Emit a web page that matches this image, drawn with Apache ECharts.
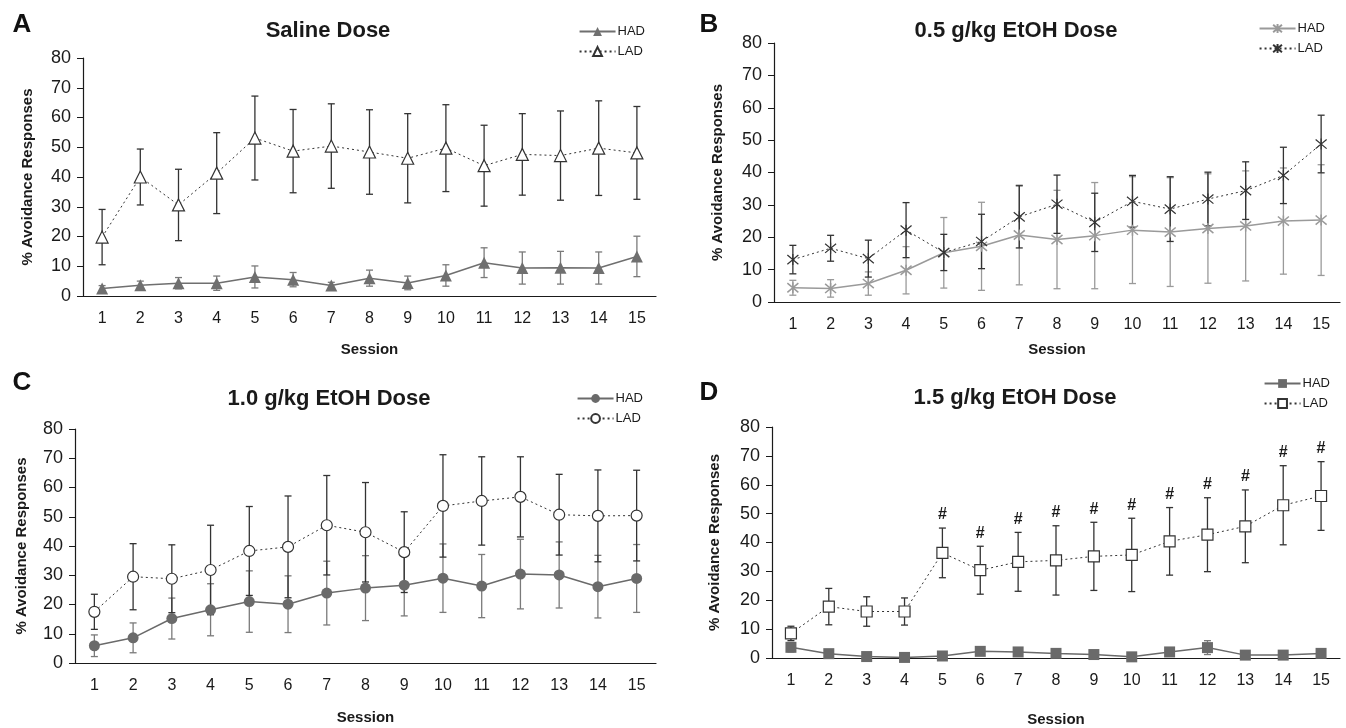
<!DOCTYPE html>
<html>
<head>
<meta charset="utf-8">
<script src="https://cdn.jsdelivr.net/npm/echarts@6/dist/echarts.min.js"></script>
<style>
	html, body { margin: 0; padding: 0; background: #fff; }
	#chart { width: 1346px; height: 728px; }
</style>
</head>
<body>
<div id="chart"></div>
<script>
const sessions = ["1", "2", "3", "4", "5", "6", "7", "8", "9", "10", "11", "12", "13", "14", "15"]

// Saline dose
const salineHAD = [2.5, 3.6, 4.3, 4.3, 6.4, 5.5, 3.5, 6.0, 4.4, 6.9, 11.2, 9.4, 9.5, 9.4, 13.3]
const salineHADErr = [1.0, 1.4, 1.9, 2.4, 3.7, 2.4, 1.1, 2.7, 2.3, 3.6, 5.0, 5.4, 5.5, 5.4, 6.8]
const salineLAD = [19.8, 40.0, 30.6, 41.3, 53.1, 48.7, 50.4, 48.4, 46.3, 49.7, 43.8, 47.6, 47.2, 49.7, 48.1]
const salineLADErr = [9.3, 9.4, 12.0, 13.6, 14.1, 14.0, 14.2, 14.2, 15.0, 14.6, 13.6, 13.7, 15.0, 15.9, 15.6]

// 0.5 g/kg
const lowHAD = [4.4, 4.2, 5.7, 9.8, 15.2, 17.2, 20.7, 19.3, 20.5, 22.2, 21.6, 22.7, 23.5, 25.0, 25.3]
const lowHADErr = [2.3, 2.7, 3.6, 7.3, 10.9, 13.6, 15.4, 15.2, 16.4, 16.5, 16.8, 16.9, 17.0, 16.4, 17.1]
const lowLAD = [13.1, 16.6, 13.4, 22.2, 15.3, 18.7, 26.3, 30.2, 24.6, 31.1, 28.7, 31.8, 34.4, 39.1, 48.8]
const lowLADErr = [4.4, 4.0, 5.7, 8.5, 5.6, 8.4, 9.6, 9.0, 9.0, 8.0, 10.0, 8.3, 8.9, 8.7, 8.9]

// 1.0 g/kg
const midHAD = [5.9, 8.6, 15.2, 18.2, 21.0, 20.1, 23.9, 25.6, 26.6, 29.0, 26.3, 30.4, 30.1, 26.1, 28.9]
const midHADErr = [3.7, 5.1, 7.0, 8.9, 10.5, 9.7, 10.9, 11.1, 10.5, 11.7, 10.8, 11.9, 11.3, 10.7, 11.6]
const midLAD = [17.5, 29.5, 28.8, 31.8, 38.3, 39.7, 47.1, 44.7, 37.9, 53.7, 55.4, 56.8, 50.7, 50.3, 50.4]
const midLADErr = [6.0, 11.3, 11.6, 15.3, 15.2, 17.4, 17.0, 17.0, 13.8, 17.5, 15.1, 13.7, 13.8, 15.7, 15.5]

// 1.5 g/kg
const highHAD = [3.7, 1.5, 0.5, 0.2, 0.7, 2.3, 2.1, 1.6, 1.2, 0.4, 2.1, 3.6, 1.0, 1.0, 1.6]
const highHADErr = [1.6, 0.5, 0.3, 0.2, 0.3, 1.3, 0.6, 0.5, 0.4, 0.3, 0.4, 2.4, 0.4, 0.4, 0.5]
const highLAD = [8.5, 17.8, 16.1, 16.1, 36.4, 30.4, 33.3, 33.8, 35.2, 35.7, 40.4, 42.7, 45.6, 52.9, 56.1]
const highLADErr = [2.5, 6.3, 5.1, 4.7, 8.6, 8.3, 10.2, 12.0, 11.8, 12.7, 11.7, 12.8, 12.6, 13.7, 11.9]
const highSig = ["5", "6", "7", "8", "9", "10", "11", "12", "13", "14", "15"]

const yTicks = [0, 10, 20, 30, 40, 50, 60, 70, 80]

const font = "Liberation Sans, Arial, Helvetica, sans-serif"
const asterisk = "path://M0,0L10,10M10,0L0,10M5,-1L5,11"

const panels = [
	{ letter: "A", title: "Saline Dose", had: salineHAD, hadErr: salineHADErr, lad: salineLAD, ladErr: salineLADErr,
		symbol: "triangle", grid: { left: 83, right: 690, top: 58, bottom: 432 },
		letterPos: [22, 25], titlePos: [328, 32], legend: { right: 701, top: 25 }, yGap: 48, xGap: 46,
		hadColor: "#6f6f6f", hadBar: "#7a7a7a" },
	{ letter: "B", title: "0.5 g/kg EtOH Dose", had: lowHAD, hadErr: lowHADErr, lad: lowLAD, ladErr: lowLADErr,
		symbol: asterisk, grid: { left: 774, right: 6, top: 43, bottom: 426 },
		letterPos: [709, 25], titlePos: [1016, 32], legend: { right: 21, top: 22 }, yGap: 49, xGap: 40,
		hadColor: "#9a9a9a", hadBar: "#9a9a9a" },
	{ letter: "C", title: "1.0 g/kg EtOH Dose", had: midHAD, hadErr: midHADErr, lad: midLAD, ladErr: midLADErr,
		symbol: "circle", grid: { left: 75, right: 690, top: 429, bottom: 65 },
		letterPos: [22, 383], titlePos: [329, 400], legend: { right: 703, top: 392 }, yGap: 46, xGap: 47,
		hadColor: "#6a6a6a", hadBar: "#7a7a7a" },
	{ letter: "D", title: "1.5 g/kg EtOH Dose", had: highHAD, hadErr: highHADErr, lad: highLAD, ladErr: highLADErr,
		symbol: "rect", grid: { left: 772, right: 6, top: 427, bottom: 70 },
		letterPos: [709, 393], titlePos: [1015, 399], legend: { right: 16, top: 377 }, yGap: 50, xGap: 54,
		hadColor: "#6a6a6a", hadBar: "#7a7a7a" },
]

const errorBars = (idx, mean, err, color) => ({
	type: "custom",
	xAxisIndex: idx,
	yAxisIndex: idx,
	silent: true,
	z: 2,
	data: mean.map((m, i) => [i, m + err[i], Math.max(0, m - err[i])]),
	encode: { x: 0, y: [1, 2] },
	renderItem: (params, api) => {
		const x = api.value(0)
		const hi = api.coord([x, api.value(1)])
		const lo = api.coord([x, api.value(2)])
		const w = 3.5
		const style = { stroke: color, lineWidth: 1.3 }
		return {
			type: "group",
			children: [
				{ type: "line", shape: { x1: hi[0], y1: hi[1], x2: lo[0], y2: lo[1] }, style },
				{ type: "line", shape: { x1: hi[0] - w, y1: hi[1], x2: hi[0] + w, y2: hi[1] }, style },
				{ type: "line", shape: { x1: lo[0] - w, y1: lo[1], x2: lo[0] + w, y2: lo[1] }, style },
			],
		}
	},
})

let grids = [], xAxes = [], yAxes = [], series = [], legends = [], titles = []

panels.forEach((p, idx) => {
	grids.push({ ...p.grid, containLabel: false, outerBoundsMode: "none" })
	xAxes.push({
		type: "category",
		gridIndex: idx,
		data: sessions,
		boundaryGap: true,
		name: "Session",
		nameLocation: "middle",
		nameGap: p.xGap,
		nameTextStyle: { fontFamily: font, fontWeight: "bold", fontSize: 15, color: "#1a1a1a" },
		axisLine: { lineStyle: { color: "#1a1a1a", width: 1.2 } },
		axisTick: { length: 6, lineStyle: { color: "#1a1a1a" } },
		axisLabel: { fontFamily: font, fontSize: 16, color: "#1a1a1a", margin: 15 },
		splitLine: { show: false },
	})
	yAxes.push({
		type: "value",
		gridIndex: idx,
		min: yTicks[0],
		max: yTicks[yTicks.length - 1],
		interval: 10,
		name: "% Avoidance Responses",
		nameLocation: "middle",
		nameRotate: 90,
		nameGap: p.yGap,
		nameTextStyle: { fontFamily: font, fontWeight: "bold", fontSize: 15, color: "#1a1a1a" },
		axisLine: { show: true, lineStyle: { color: "#1a1a1a", width: 1.2 } },
		axisTick: { show: true, length: 6, lineStyle: { color: "#1a1a1a" } },
		axisLabel: { fontFamily: font, fontSize: 18, color: "#1a1a1a", margin: 12 },
		splitLine: { show: false },
	})

	series.push(errorBars(idx, p.had, p.hadErr, p.hadBar))
	series.push(errorBars(idx, p.lad, p.ladErr, "#333"))

	const isStar = p.symbol === asterisk
	series.push({
		name: p.letter + "-HAD",
		type: "line",
		xAxisIndex: idx,
		yAxisIndex: idx,
		data: p.had,
		symbol: p.symbol,
		symbolSize: isStar ? 11 : (p.symbol === "triangle" ? 12 : 11),
		showAllSymbol: true,
		z: 4,
		lineStyle: { color: p.hadColor, width: 1.5, type: "solid" },
		itemStyle: { color: p.hadColor, borderColor: p.hadColor, borderWidth: isStar ? 1.5 : 0 },
		emphasis: { disabled: true },
	})
	series.push({
		name: p.letter + "-LAD",
		type: "line",
		xAxisIndex: idx,
		yAxisIndex: idx,
		data: p.lad,
		symbol: p.symbol,
		symbolSize: isStar ? 11 : (p.symbol === "triangle" ? 12 : 11),
		showAllSymbol: true,
		z: 5,
		lineStyle: { color: "#333", width: 1, type: [2, 3] },
		itemStyle: { color: isStar ? "#333" : "#fff", borderColor: "#333", borderWidth: 1.2 },
		emphasis: { disabled: true },
	})

	legends.push({
		orient: "vertical",
		right: p.legend.right,
		top: p.legend.top,
		padding: 0,
		itemGap: 7,
		itemWidth: 36,
		itemHeight: 11,
		selectedMode: false,
		data: [p.letter + "-HAD", p.letter + "-LAD"],
		formatter: (n) => n.split("-")[1],
		textStyle: { fontFamily: font, fontSize: 13, color: "#1a1a1a", padding: [0, 0, 0, -3] },
	})

	titles.push({
		text: p.letter,
		left: p.letterPos[0],
		top: p.letterPos[1] - 13,
		textAlign: "center",
		padding: 0,
		textStyle: { fontFamily: font, fontWeight: "bold", fontSize: 26, color: "#111" },
	})
	titles.push({
		text: p.title,
		left: p.titlePos[0],
		top: p.titlePos[1] - 12,
		textAlign: "center",
		padding: 0,
		textStyle: { fontFamily: font, fontWeight: "bold", fontSize: 22, color: "#1a1a1a" },
	})
})

// significance marks above the LAD error bars of the 1.5 g/kg panel
series.push({
	type: "custom",
	xAxisIndex: 3,
	yAxisIndex: 3,
	silent: true,
	z: 6,
	data: highSig.map((s) => {
		const i = sessions.indexOf(s)
		return [i, highLAD[i] + highLADErr[i]]
	}),
	encode: { x: 0, y: 1 },
	renderItem: (params, api) => {
		const pt = api.coord([api.value(0), api.value(1)])
		return {
			type: "text",
			x: pt[0],
			y: pt[1] - 13,
			style: { text: "#", fill: "#1a1a1a", font: "bold 16px " + font, align: "center", verticalAlign: "middle" },
		}
	},
})

const chart = echarts.init(document.getElementById("chart"))
chart.setOption({
	animation: false,
	backgroundColor: "#fff",
	title: titles,
	legend: legends,
	grid: grids,
	xAxis: xAxes,
	yAxis: yAxes,
	series: series,
})
</script>
</body>
</html>
